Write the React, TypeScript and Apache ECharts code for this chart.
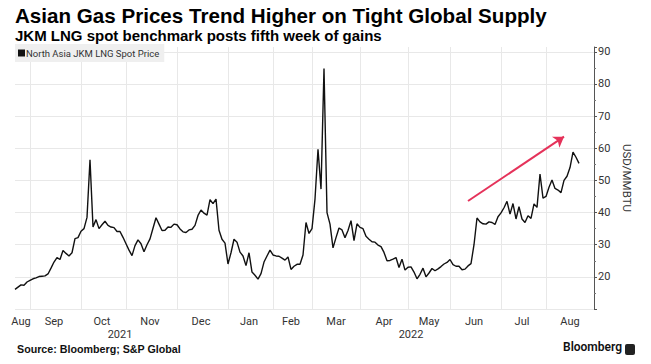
import React, { useEffect, useRef } from "react";
import * as echarts from "echarts";

// ---- Data (USD/MMBTU, JKM LNG spot, trading-day samples per month) ----
const aug21 = [16.1, 16.8, 17.5, 17.4, 18.4];
const sep21 = [18.9, 19.4, 19.7, 20.1, 20.2, 20.3, 20.9, 22.7, 24.6, 26, 25.4, 28.2, 27.3, 26.5, 27.5, 31.9, 32.2];
const oct21 = [34.2, 35, 38.5, 56.4, 35.5, 37.8, 35.0, 36.2, 37.3, 36, 35.5, 35.3, 34.1, 34.1, 32.3];
const nov21 = [30.3, 28.3, 26.6, 29.7, 31.5, 30.3, 27.8, 30, 31.8, 35.1, 38.4, 36.4, 34.4, 34.5, 35.5, 35.4, 36.4];
const dec21 = [36.2, 34.9, 34, 33.8, 34.6, 34.8, 36, 39.1, 40.8, 39.8, 39.2, 44, 42.8, 44.2, 34.5, 31.7, 30.5];
const jan22 = [24, 27.5, 31.7, 30.8, 27.7, 26.5, 23.5, 27.5, 21.5, 20.5, 19.3, 21, 24.6, 26.5, 28.3];
const feb22 = [26.8, 26.5, 26.4, 25.8, 25.2, 26.2, 22.3, 23.3, 23.9, 23.9, 26.8, 36.9, 33.5];
const mar22 = [35, 44.2, 59.7, 47.3, 84.8, 40, 36.4, 29, 32.2, 35.2, 34.6, 32.2, 34.4, 37.5, 31.3, 36.5];
const apr22 = [35.4, 35, 32.6, 31.7, 30.9, 30.8, 29.9, 29.4, 27.6, 25, 25.1, 25.5, 26, 22.9, 25.5, 22.1];
const may22 = [23, 23.1, 21.5, 19.4, 20.8, 22.7, 20.0, 21.2, 22.6, 21.9, 22.5, 23.2, 24, 24.5];
const jun22 = [25.4, 23.8, 23.3, 23.3, 22.2, 22.4, 23.4, 24.1, 30, 38.3, 37.1, 36.5, 36.4, 37.1, 36.9, 36.3, 38.7];
const jul22 = [39.9, 41.5, 43.5, 39.5, 42.8, 38, 41.8, 38.0, 36.9, 39, 38.2, 42.7, 41.6, 52, 44.5];
const aug22 = [45, 47.9, 50.1, 47.5, 47, 46.2, 50, 51.3, 54, 58.8, 57.2, 55.3, null, null, null, null, null];

const monthNames = ["Aug", "Sep", "Oct", "Nov", "Dec", "Jan", "Feb", "Mar", "Apr", "May", "Jun", "Jul", "Aug"];
const monthYears = ["2021", "2021", "2021", "2021", "2021", "2022", "2022", "2022", "2022", "2022", "2022", "2022", "2022"];
const monthValues: (number | null)[][] = [aug21, sep21, oct21, nov21, dec21, jan22, feb22, mar22, apr22, may22, jun22, jul22, aug22];

const yTicks = [20, 30, 40, 50, 60, 70, 80, 90];
const seriesName = "North Asia JKM LNG Spot Price";
// trend arrow: [category, value] endpoints
const arrowFrom: [string, number] = ["Jun 2022 #6", 43.6];
const arrowTo: [string, number] = ["Aug 2022 #6", 63.6];

const FONT = "Roboto, 'Open Sans', sans-serif";
const HEAD_FONT = "'Liberation Sans', Arial, sans-serif";

export default function App() {
  const ref = useRef<HTMLDivElement>(null);
  useEffect(() => {
    if (!ref.current) return;
    const chart = echarts.init(ref.current, undefined, { renderer: "svg" });

    const categories: string[] = [];
    const values: (number | null)[] = [];
    const boundaryIdx = new Set<number>();
    const labelIdx = new Set<number>();
    const yearRanges: Record<string, [number, number]> = {};
    monthValues.forEach((arr, m) => {
      const start = categories.length;
      if (start > 0) boundaryIdx.add(start);
      arr.forEach((v, k) => {
        categories.push(`${monthNames[m]} ${monthYears[m]} #${k}`);
        values.push(v);
      });
      const end = categories.length - 1;
      labelIdx.add(Math.round((start + end) / 2));
      const y = monthYears[m];
      if (!yearRanges[y]) yearRanges[y] = [start, end];
      else yearRanges[y][1] = end;
    });
    const yearIdx = new Set<number>(Object.values(yearRanges).map(([a, b]) => Math.round((a + b) / 2)));

    const splitColors = yTicks.map(() => "#e8e8e8");
    splitColors.unshift("#e8e8e8");
    splitColors.push("rgba(0,0,0,0)");

    chart.setOption({
      animation: false,
      backgroundColor: "#ffffff",
      textStyle: { fontFamily: FONT },
      grid: { left: 15, right: 57, top: 47, bottom: 55 },
      legend: {
        left: 15,
        top: 44,
        backgroundColor: "#efefef",
        padding: [4, 5, 4, 3],
        itemWidth: 7,
        itemHeight: 7,
        icon: "rect",
        textStyle: { fontSize: 9.5, color: "#333", fontFamily: FONT, padding: [0, 0, 0, -4] },
        data: [{ name: seriesName, itemStyle: { color: "#111" } }],
      },
      xAxis: [
        {
          type: "category",
          data: categories,
          boundaryGap: false,
          axisLine: { show: false },
          axisTick: { show: false },
          axisLabel: {
            interval: (i: number) => labelIdx.has(i),
            formatter: (v: string) => v.split(" ")[0],
            color: "#333",
            fontSize: 11,
            margin: 7,
            fontFamily: FONT,
          },
          splitLine: { show: true, interval: (i: number) => boundaryIdx.has(i), lineStyle: { color: "#e8e8e8", width: 1 } },
        },
        {
          type: "category",
          data: categories,
          boundaryGap: false,
          position: "bottom",
          offset: 13,
          axisLine: { show: false },
          axisTick: { show: false },
          splitLine: { show: false },
          axisLabel: {
            interval: (i: number) => yearIdx.has(i),
            formatter: (v: string) => v.split(" ")[1],
            color: "#333",
            fontSize: 11,
            margin: 7,
            fontFamily: FONT,
          },
        },
      ],
      yAxis: {
        type: "value",
        position: "right",
        min: 10,
        max: 91.5,
        interval: 10,
        axisLine: { show: true, lineStyle: { color: "#555", width: 1 } },
        axisTick: { show: true, length: 3, lineStyle: { color: "#555" } },
        minorTick: { show: true, splitNumber: 2, length: 2, lineStyle: { color: "#777" } },
        minorSplitLine: { show: false },
        axisLabel: {
          formatter: (v: number) => (yTicks.indexOf(v) >= 0 ? String(v) : ""),
          margin: 4,
          fontSize: 11,
          color: "#333",
          fontFamily: FONT,
        },
        splitLine: { show: true, lineStyle: { color: splitColors, width: 1 } },
        name: "USD/MMBTU",
        nameLocation: "middle",
        nameRotate: -90,
        nameGap: 27,
        nameTextStyle: { fontSize: 11.5, color: "#333", fontFamily: FONT },
      },
      series: [
        {
          name: seriesName,
          type: "line",
          data: values,
          showSymbol: false,
          connectNulls: false,
          lineStyle: { color: "#111", width: 1.4 },
          itemStyle: { color: "#111" },
          markLine: {
            silent: true,
            symbol: ["none", "arrow"],
            symbolSize: [10, 10],
            label: { show: false },
            itemStyle: { color: "#e5325a" },
            lineStyle: { color: "#e5325a", width: 2, type: "solid" },
            data: [[{ coord: [arrowFrom[0], arrowFrom[1]] }, { coord: [arrowTo[0], arrowTo[1]] }]],
          },
        },
      ],
      graphic: [
        {
          type: "text",
          left: 15,
          top: 5,
          style: { text: "Asian Gas Prices Trend Higher on Tight Global Supply", font: `bold 20.6px ${HEAD_FONT}`, fill: "#000" },
        },
        {
          type: "text",
          left: 15,
          top: 28,
          style: { text: "JKM LNG spot benchmark posts fifth week of gains", font: `bold 15px ${HEAD_FONT}`, fill: "#000" },
        },
        {
          type: "text",
          left: 17,
          top: 343,
          style: { text: "Source: Bloomberg; S&P Global", font: `bold 10.7px ${HEAD_FONT}`, fill: "#111" },
        },
        {
          type: "text",
          right: 29,
          top: 341,
          style: { text: "Bloomberg", font: `600 12px ${FONT}`, fill: "#111" },
        },
        {
          type: "rect",
          right: 16,
          top: 344,
          shape: { width: 10, height: 11, r: 2 },
          style: { fill: "#222" },
        },
      ],
    });
    return () => chart.dispose();
  }, []);
  return <div ref={ref} style={{ position: "absolute", left: 0, top: 0, width: 651, height: 364 }} />;
}
